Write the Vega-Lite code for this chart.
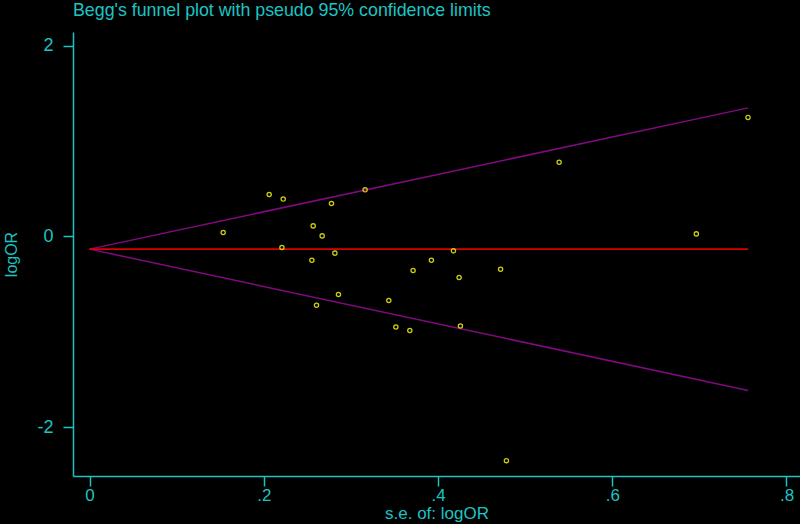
{
  "$schema": "https://vega.github.io/schema/vega-lite/v6.json",
  "autosize": "none",
  "width": 727,
  "height": 444,
  "padding": {"top": 32, "left": 73, "right": 0, "bottom": 48},
  "background": "black",
  "config": {
    "view": {"stroke": null},
    "font": "Liberation Sans",
    "axis": {
      "grid": false,
      "domainColor": "#1cc4c4",
      "domainWidth": 1.5,
      "tickColor": "#1cc4c4",
      "tickWidth": 1.5,
      "tickSize": 10,
      "labelColor": "#1cc4c4",
      "labelFont": "Liberation Sans",
      "labelFontSize": 18,
      "titleColor": "#1cc4c4",
      "titleFont": "Liberation Sans",
      "titleFontWeight": "normal"
    }
  },
  "title": {
    "text": "Begg's funnel plot with pseudo 95% confidence limits",
    "anchor": "start",
    "frame": "group",
    "font": "Liberation Sans",
    "fontSize": 17.8,
    "fontWeight": "normal",
    "color": "#1cc4c4",
    "offset": 12
  },
  "datasets": {
    "studies": [
      {"se": 0.1534, "logOR": 0.041},
      {"se": 0.2062, "logOR": 0.440},
      {"se": 0.2223, "logOR": 0.391},
      {"se": 0.2208, "logOR": -0.117},
      {"se": 0.2567, "logOR": 0.110},
      {"se": 0.2670, "logOR": 0.005},
      {"se": 0.2777, "logOR": 0.345},
      {"se": 0.2552, "logOR": -0.250},
      {"se": 0.2816, "logOR": -0.176},
      {"se": 0.2605, "logOR": -0.722},
      {"se": 0.2857, "logOR": -0.610},
      {"se": 0.3163, "logOR": 0.488},
      {"se": 0.3435, "logOR": -0.673},
      {"se": 0.3516, "logOR": -0.950},
      {"se": 0.3676, "logOR": -0.988},
      {"se": 0.3714, "logOR": -0.358},
      {"se": 0.3924, "logOR": -0.250},
      {"se": 0.4177, "logOR": -0.152},
      {"se": 0.4242, "logOR": -0.431},
      {"se": 0.4257, "logOR": -0.940},
      {"se": 0.4718, "logOR": -0.345},
      {"se": 0.4785, "logOR": -2.353},
      {"se": 0.5390, "logOR": 0.777},
      {"se": 0.6965, "logOR": 0.026},
      {"se": 0.7558, "logOR": 1.248}
    ],
    "limits": [
      {"se": 0, "logOR": -0.134, "line": "upper"},
      {"se": 0.756, "logOR": 1.348, "line": "upper"},
      {"se": 0, "logOR": -0.134, "line": "lower"},
      {"se": 0.756, "logOR": -1.616, "line": "lower"}
    ],
    "pooled": [
      {"se": 0, "logOR": -0.134},
      {"se": 0.756, "logOR": -0.134}
    ]
  },
  "layer": [
    {
      "data": {"name": "limits"},
      "mark": {"type": "line", "color": "#800a80", "strokeWidth": 1.5},
      "encoding": {
        "x": {"field": "se", "type": "quantitative", "scale": {"domain": [-0.019, 0.8155], "nice": false, "zero": false},
              "axis": {"values": [0, 0.2, 0.4, 0.6, 0.8], "labelExpr": "datum.value == 0 ? '0' : replace(format(datum.value, '.1f'), '0.', '.')", "labelFontSize": 17, "labelPadding": 1, "title": "s.e. of: logOR", "titleFontSize": 17, "titlePadding": 2}},
        "y": {"field": "logOR", "type": "quantitative", "scale": {"domain": [-2.514, 2.144], "nice": false, "zero": false},
              "axis": {"values": [-2, 0, 2], "labelExpr": "'' + datum.value", "labelPadding": 10, "title": "logOR", "titleFontSize": 16, "titlePadding": 17}},
        "detail": {"field": "line"}
      }
    },
    {
      "data": {"name": "pooled"},
      "mark": {"type": "line", "color": "#dd0000", "strokeWidth": 1.6},
      "encoding": {
        "x": {"field": "se", "type": "quantitative"},
        "y": {"field": "logOR", "type": "quantitative"}
      }
    },
    {
      "data": {"name": "studies"},
      "mark": {"type": "point", "shape": "circle", "filled": false, "color": "#cccc10", "size": 18, "strokeWidth": 1.3, "opacity": 1},
      "encoding": {
        "x": {"field": "se", "type": "quantitative"},
        "y": {"field": "logOR", "type": "quantitative"}
      }
    }
  ]
}
